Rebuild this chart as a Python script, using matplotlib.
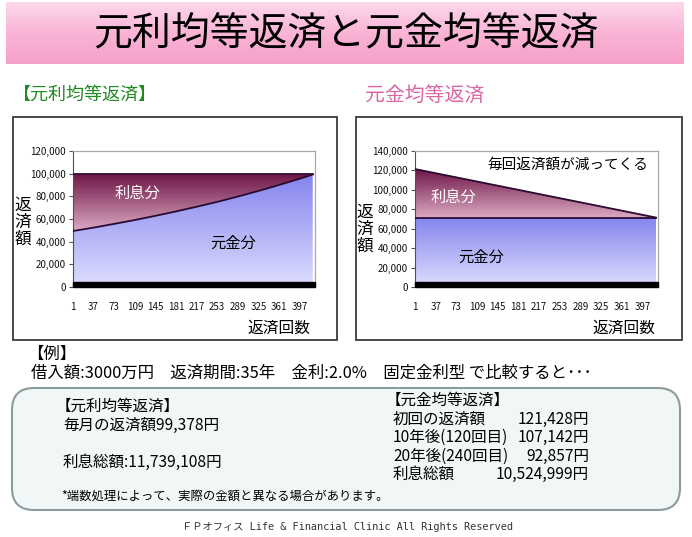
import numpy as np
import matplotlib.pyplot as plt
from matplotlib.colors import LinearSegmentedColormap
from matplotlib.patches import FancyBboxPatch, Rectangle
from matplotlib.ticker import StrMethodFormatter

plt.rcParams['font.family'] = ['Noto Sans CJK JP', 'DejaVu Sans']

W, H = 692, 537

# 返済回数
kaisu = [1, 37, 73, 109, 145, 181, 217, 253, 289, 325, 361, 397, 420]
# 元利均等: 毎回の返済額と元金分
ganri_total = [99378, 99378, 99378, 99378, 99378, 99378, 99378,
               99378, 99378, 99378, 99378, 99378, 99378]
ganri_principal = [49400, 52400, 55700, 59100, 62800, 66700, 70800,
                   75100, 79800, 84700, 90000, 95500, 99200]
# 元金均等: 毎回の返済額と元金分
gankin_total = [121428, 117142, 112857, 108571, 104285, 100000, 95714,
                91428, 87142, 82857, 78571, 74285, 71546]
gankin_principal = [71428, 71428, 71428, 71428, 71428, 71428, 71428,
                    71428, 71428, 71428, 71428, 71428, 71428]

xtick_vals = [1, 37, 73, 109, 145, 181, 217, 253, 289, 325, 361, 397]
yticks_left = [0, 20000, 40000, 60000, 80000, 100000, 120000]
yticks_right = [0, 20000, 40000, 60000, 80000, 100000, 120000, 140000]

right_labels = ['初回の返済額', '10年後(120回目)', '20年後(240回目)', '利息総額']
right_amounts = ['121,428円', '107,142円', '92,857円', '10,524,999円']


def px_axes(l, t, r, b):
    return [l / W, 1 - b / H, (r - l) / W, (b - t) / H]


def grad_fill(ax, poly, ylo, yhi, c_bottom, c_top):
    cmap = LinearSegmentedColormap.from_list('g', [c_bottom, c_top])
    im = ax.imshow(np.linspace(0, 1, 256).reshape(-1, 1), cmap=cmap, origin='lower',
                   extent=(kaisu[0], kaisu[-1], ylo, yhi), aspect='auto', zorder=1)
    im.set_clip_path(poly.get_paths()[0], transform=ax.transData)
    poly.set_facecolor('none')


def fig_text(ax, x, y, s, **kw):
    ax.text(x / W, 1 - y / H, s, transform=fig.transFigure, ha='center', va='center', **kw)


fig = plt.figure(figsize=(W / 100, H / 100), dpi=100)
bg = fig.add_axes([0, 0, 1, 1])
bg.axis('off')

# タイトル帯
banner = LinearSegmentedColormap.from_list('b', ['#fdd8eb', '#f9b4d6', '#f6a0c9'])
bg.imshow(np.linspace(0, 1, 100).reshape(-1, 1), cmap=banner, origin='upper',
          extent=(6, 684, 64, 2), aspect='auto')
bg.text(346, 34, '元利均等返済と元金均等返済', fontsize=28, ha='center', va='center')

bg.text(13, 95, '【元利均等返済】', color='#1f8a1f', fontsize=13, va='center')
bg.text(365, 95, '元金均等返済', color='#dc66a4', fontsize=14.3, va='center')

# グラフの枠
bg.add_patch(Rectangle((13, 117), 324, 223, fc='white', ec='#3c3c3c', lw=1.3))
bg.add_patch(Rectangle((356, 117), 326, 223, fc='white', ec='#3c3c3c', lw=1.3))


def draw_chart(rect, total, principal, ymax, yticks):
    ax = fig.add_axes(px_axes(*rect))
    p1 = ax.fill_between(kaisu, 0, principal, lw=0)
    grad_fill(ax, p1, 0, max(principal), '#dedeff', '#8484ee')
    p2 = ax.fill_between(kaisu, principal, total, lw=0)
    grad_fill(ax, p2, min(principal), max(total), '#dcaac4', '#6e1646')
    ax.plot(kaisu, principal, color='#2a0a30', lw=1.3, zorder=3)
    ax.plot(kaisu, total, color='#2a0a30', lw=1.3, zorder=3)
    ax.add_patch(Rectangle((0, 0), 1, 0.036, transform=ax.transAxes,
                           color='black', zorder=5, clip_on=False))
    ax.set_xlim(1, 424)
    ax.set_ylim(0, ymax)
    ax.set_xticks(xtick_vals)
    ax.set_yticks(yticks)
    ax.yaxis.set_major_formatter(StrMethodFormatter('{x:,.0f}'))
    ax.tick_params(axis='y', length=3, width=0.8, color='#505050', pad=2,
                   labelsize=7, labelcolor='#111111')
    ax.tick_params(axis='x', length=0, pad=11, labelsize=7, labelcolor='#111111')
    for s in ['top', 'right']:
        ax.spines[s].set_color('#a8a8a8')
        ax.spines[s].set_linewidth(0.9)
    ax.spines['left'].set_color('#505050')
    ax.spines['bottom'].set_visible(False)
    return ax


axl = draw_chart((73, 151, 315, 287), ganri_total, ganri_principal, 120000, yticks_left)
fig_text(axl, 137, 193, '利息分', color='white', fontsize=11)
fig_text(axl, 233, 243, '元金分', color='black', fontsize=11)

axr = draw_chart((415, 151, 658, 287), gankin_total, gankin_principal, 140000, yticks_right)
fig_text(axr, 568, 165, '毎回返済額が減ってくる', color='black', fontsize=10.5)
fig_text(axr, 453, 197, '利息分', color='white', fontsize=11)
fig_text(axr, 481, 257, '元金分', color='black', fontsize=11)

# 軸タイトル
bg.text(23, 222, '返\n済\n額', fontsize=12, ha='center', va='center', linespacing=1.0)
bg.text(365, 229, '返\n済\n額', fontsize=12, ha='center', va='center', linespacing=1.0)
bg.text(279, 328, '返済回数', fontsize=11.3, ha='center', va='center')
bg.text(624, 328, '返済回数', fontsize=11.3, ha='center', va='center')

# 下段の説明
bg.text(27, 354, '【例】', fontsize=11.8, va='center')
bg.text(31, 373, '借入額:3000万円　返済期間:35年　金利:2.0%　固定金利型 で比較すると･･･',
        fontsize=11.8, va='center')
bg.add_patch(FancyBboxPatch((12, 388), 668, 122, boxstyle='round,pad=0,rounding_size=22',
                            fc='#f1f7f7', ec='#8c9c9c', lw=1.5))
bg.text(56, 406, '【元利均等返済】', fontsize=11.2, va='center')
bg.text(63, 425, '毎月の返済額99,378円', fontsize=11.2, va='center')
bg.text(63, 462, '利息総額:11,739,108円', fontsize=11.2, va='center')
bg.text(61, 496, '*端数処理によって、実際の金額と異なる場合があります。', fontsize=8.9, va='center')

bg.text(386, 400, '【元金均等返済】', fontsize=11.2, va='center')
for i in range(len(right_labels)):
    y = 419 + i * 18.5
    bg.text(393, y, right_labels[i], fontsize=11.2, va='center')
    bg.text(589, y, right_amounts[i], fontsize=11.2, va='center', ha='right')

bg.text(347, 527, 'ＦＰオフィス Life & Financial Clinic All Rights Reserved',
        family=['DejaVu Sans Mono', 'Noto Sans CJK JP'], fontsize=7.4, ha='center',
        va='center', color='#333333')

bg.set_xlim(0, W)
bg.set_ylim(H, 0)

fig.savefig('out.png', dpi=100)
